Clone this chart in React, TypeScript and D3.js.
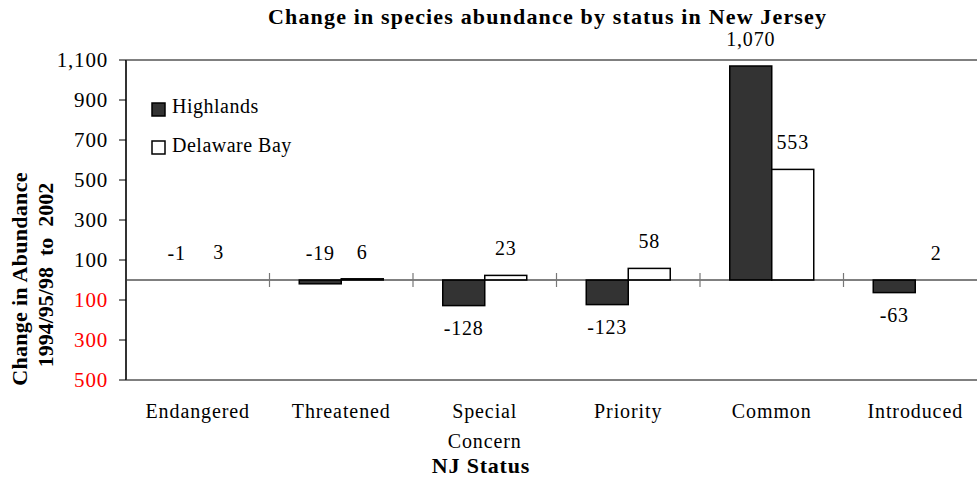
import React from "react";
import * as d3 from "d3";

const categories = ["Endangered", "Threatened", "Special Concern", "Priority", "Common", "Introduced"];
const seriesNames = ["Highlands", "Delaware Bay"];
const highlands = [-1, -19, -128, -123, 1070, -63];
const delawareBay = [3, 6, 23, 58, 553, 2];
const yTicks = [1100, 900, 700, 500, 300, 100, -100, -300, -500];

const W = 977;
const H = 479;
const FONT = "'Liberation Serif', 'Times New Roman', serif";

export default function App() {
  if (typeof document !== "undefined") document.body.style.margin = "0";
  const x0 = d3.scaleBand<string>().domain(categories).range([126, 987]).paddingInner(0).paddingOuter(0);
  const x1 = d3.scaleBand<string>().domain(seriesNames).range([0, 84]);
  const y = d3.scaleLinear().domain([-500, 1100]).range([380, 60]);
  const fills = ["#333333", "#ffffff"];
  const series = [highlands, delawareBay];
  const locale = d3.formatLocale({ decimal: ".", thousands: ",", grouping: [3], currency: ["$", ""], minus: "-" });
  const fmt = locale.format(",");
  const bw = x0.bandwidth();
  const groupOffset = (bw - 84) / 2;

  return (
    <svg width={W} height={H} style={{ position: "absolute", left: 0, top: 0, background: "#fff" }} fontFamily={FONT}>
      <rect x={0} y={0} width={W} height={H} fill="#fff" />
      {/* title */}
      <text x={547} y={24} textAnchor="middle" fontWeight="bold" fontSize={22} textLength={558} lengthAdjust="spacing">
        Change in species abundance by status in New Jersey
      </text>
      {/* plot borders */}
      <line x1={126} x2={W} y1={y(1100)} y2={y(1100)} stroke="#000" strokeWidth={1} />
      <line x1={126} x2={W} y1={y(-500)} y2={y(-500)} stroke="#000" strokeWidth={1} />
      {/* bars */}
      {series.map((vals, si) =>
        vals.map((v, ci) => {
          const bx = (x0(categories[ci]) as number) + groupOffset + (x1(seriesNames[si]) as number);
          const top = y(Math.max(0, v));
          const bot = y(Math.min(0, v));
          const tiny = bot - top < 1;
          return (
            <rect key={`b${si}-${ci}`} x={bx} y={top} width={x1.bandwidth()} height={bot - top}
              fill={tiny ? "none" : fills[si]} stroke={tiny ? "none" : "#000"} strokeWidth={1.5} />
          );
        })
      )}
      {/* zero line */}
      <line x1={126} x2={W} y1={y(0)} y2={y(0)} stroke="#000" strokeWidth={1} />
      {/* category ticks */}
      {categories.slice(1).map((c) => (
        <line key={`ct${c}`} x1={x0(c) as number} x2={x0(c) as number} y1={y(0) - 7} y2={y(0) + 7} stroke="#777" strokeWidth={1.2} />
      ))}
      {/* data labels */}
      {series.map((vals, si) =>
        vals.map((v, ci) => {
          const cx = (x0(categories[ci]) as number) + groupOffset + (x1(seriesNames[si]) as number) + x1.bandwidth() / 2;
          const pixH = Math.abs(y(v) - y(0));
          const above = v >= 0 || pixH < 10;
          const ty = above ? y(Math.max(0, v)) - 20 : y(v) + 29;
          return (
            <text key={`l${si}-${ci}`} x={cx} y={ty} textAnchor="middle" fontSize={20} letterSpacing={0.8}>
              {fmt(v)}
            </text>
          );
        })
      )}
      {/* y axis */}
      <line x1={126} x2={126} y1={y(1100)} y2={y(-500)} stroke="#333" strokeWidth={2} />
      {yTicks.map((t) => (
        <g key={`yt${t}`}>
          <line x1={119} x2={126} y1={y(t)} y2={y(t)} stroke="#000" strokeWidth={1} />
          <text x={108} y={y(t)} dy="0.35em" textAnchor="end" fontSize={21} letterSpacing={0.8} fill={t < 0 ? "#ff0000" : "#000"}>
            {fmt(Math.abs(t))}
          </text>
        </g>
      ))}
      {/* category labels */}
      {categories.map((c) => {
        const cx = (x0(c) as number) + bw / 2;
        const parts = c === "Special Concern" ? ["Special", "Concern"] : [c];
        return (
          <text key={`cl${c}`} x={cx} y={418} textAnchor="middle" fontSize={20} letterSpacing={0.9}>
            {parts.map((p, i) => (
              <tspan key={p} x={cx} dy={i === 0 ? 0 : 30}>{p}</tspan>
            ))}
          </text>
        );
      })}
      {/* x axis title */}
      <text x={481} y={473} textAnchor="middle" fontWeight="bold" fontSize={22} letterSpacing={0.8}>NJ Status</text>
      {/* y axis title */}
      <g transform="translate(27,279) rotate(-90)">
        <text x={0} y={0} textAnchor="middle" fontWeight="bold" fontSize={22} letterSpacing={0.3}>Change in Abundance</text>
      </g>
      <g transform="translate(53,275) rotate(-90)">
        <text x={0} y={0} textAnchor="middle" fontWeight="bold" fontSize={22} style={{ whiteSpace: "pre" }}>{"1994/95/98  to  2002"}</text>
      </g>
      {/* legend */}
      {seriesNames.map((s, i) => (
        <g key={`lg${s}`}>
          <rect x={152} y={103 + i * 38} width={13} height={13} fill={fills[i]} stroke="#000" strokeWidth={1.5} />
          <text x={172} y={113 + i * 39} fontSize={20} letterSpacing={0.5}>{s}</text>
        </g>
      ))}
    </svg>
  );
}
